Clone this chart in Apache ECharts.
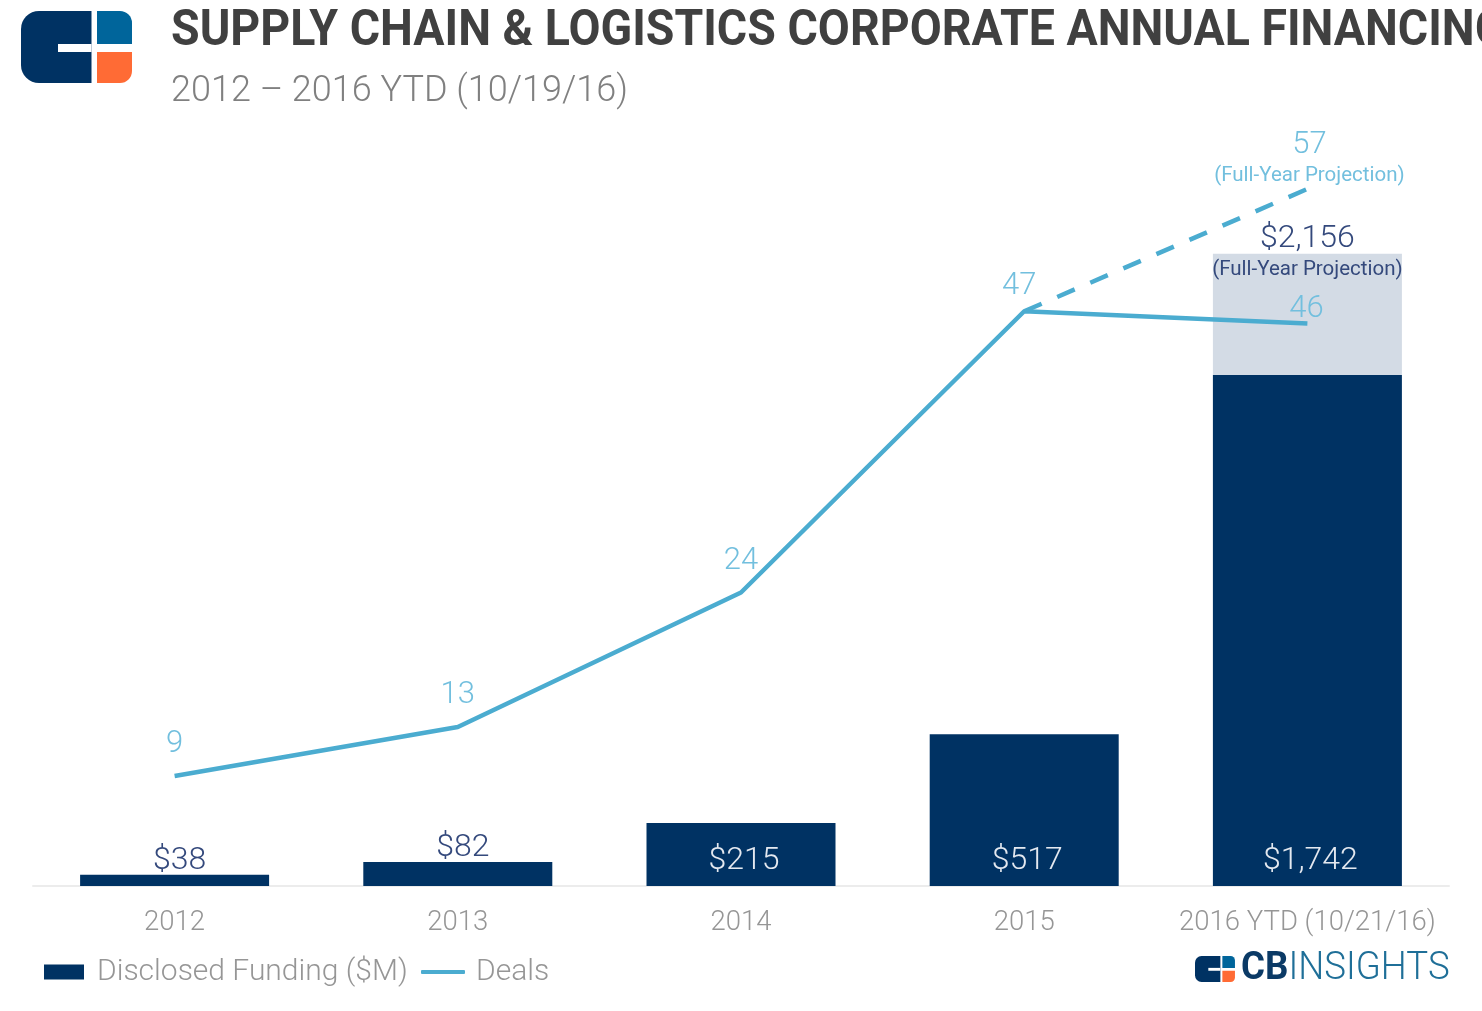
<!DOCTYPE html>
<html>
<head>
<meta charset="utf-8">
<title>Supply Chain & Logistics Corporate Annual Financing</title>
<script src="https://cdn.jsdelivr.net/npm/echarts@6/dist/echarts.min.js"></script>
<style>
    html, body { margin: 0; padding: 0; background: #fff; overflow: hidden; }
    #main { width: 1482px; height: 1011px; }
</style>
</head>
<body>
<div id="main"></div>
<script>
var years = ['2012', '2013', '2014', '2015', '2016 YTD (10/21/16)'];
var funding = [38, 82, 215, 517, 1742];
var fundingProjected = [null, null, null, null, 2156];
var deals = [9, 13, 24, 47, 46];
var dealsProjected = [null, null, null, 47, 57];

var navy = '#003263';
var blue = '#4bacd0';
var labelBlue = '#72bfde';
var grey = '#969696';
var fontName = 'Roboto';

function money(v) {
    return '$' + v.toLocaleString('en-US');
}

// logo built from rounded rects, s = scale
function makeLogo(x, y, s) {
    function part(px, py, w, h, r, color) {
        return {
            type: 'rect',
            shape: { x: x + px * s, y: y + py * s, width: w * s, height: h * s, r: r.map(function (n) { return n * s; }) },
            style: { fill: color }
        };
    }
    return [
        part(0, 0, 70.5, 72, [18, 0, 0, 18], navy),
        part(37, 33, 33.5, 8, [0, 0, 0, 0], '#ffffff'),
        part(76, 0, 35, 33, [0, 12, 0, 0], '#00659b'),
        part(76, 41, 35, 31, [0, 0, 12, 0], '#ff6b35')
    ];
}

var headerGraphics = [
    {
        type: 'text', x: 171, y: 32, scaleX: 0.93,
        style: {
            text: 'SUPPLY CHAIN & LOGISTICS CORPORATE ANNUAL FINANCING',
            fontFamily: fontName, fontWeight: 700, fontSize: 50, fill: '#404040', verticalAlign: 'middle'
        }
    },
    {
        type: 'text', x: 171, y: 92,
        style: {
            text: '2012 \u2013 2016 YTD (10/19/16)',
            fontFamily: fontName, fontWeight: 300, fontSize: 36, fill: '#808080', verticalAlign: 'middle'
        }
    },
    {
        type: 'text', x: 1241, y: 969, scaleX: 0.965,
        style: {
            text: '{a|CB}{b|INSIGHTS}',
            verticalAlign: 'middle',
            rich: {
                a: { fontFamily: fontName, fontWeight: 700, fontSize: 38, fill: '#0b3a66' },
                b: { fontFamily: fontName, fontWeight: 300, fontSize: 38, fill: '#1f6f98' }
            }
        }
    }
];

var chart = echarts.init(document.getElementById('main'));

var option = {
    animation: false,
    textStyle: { fontFamily: fontName },
    graphic: makeLogo(21, 11, 1).concat(makeLogo(1195, 956, 0.36)).concat(headerGraphics),
    legend: [
        {
            data: [{ name: 'Disclosed Funding ($M)', icon: 'rect' }],
            left: 39, top: 952, itemWidth: 40, itemHeight: 15,
            textStyle: { color: grey, fontSize: 30, fontWeight: 300, fontFamily: fontName, padding: [0, 0, 0, 8] }
        },
        {
            data: [{ name: 'Deals', icon: 'roundRect' }],
            left: 416, top: 952, itemWidth: 44, itemHeight: 4,
            textStyle: { color: grey, fontSize: 30, fontWeight: 300, fontFamily: fontName, padding: [0, 0, 0, 6] }
        }
    ],
    grid: { left: 33, right: 33, top: 123.4, bottom: 125 },
    xAxis: {
        type: 'category',
        data: years,
        axisLine: { lineStyle: { color: '#ececec', width: 2 } },
        axisTick: { show: false },
        axisLabel: { color: grey, fontSize: 27.5, fontWeight: 300, margin: 23, interval: 0 }
    },
    yAxis: [
        { type: 'value', min: 0, max: 2600, show: false },
        { type: 'value', min: 0, max: 62.36, show: false }
    ],
    series: [
        {
            name: 'Disclosed Funding ($M)',
            type: 'bar',
            stack: 'funding',
            barWidth: 189,
            itemStyle: { color: navy },
            data: funding.map(function (v) {
                var small = v < 100;
                return {
                    value: v,
                    label: {
                        show: true,
                        position: small ? 'top' : 'insideBottom',
                        distance: small ? -2 : 9,
                        offset: [small ? 5 : 3, 0],
                        formatter: money(v),
                        color: small ? '#34497c' : '#e4e9f0',
                        fontSize: 32,
                        fontWeight: 300
                    }
                };
            })
        },
        {
            name: 'Projected',
            type: 'bar',
            stack: 'funding',
            barWidth: 189,
            itemStyle: { color: '#d3dbe5' },
            data: fundingProjected.map(function (v, i) {
                if (v === null) return null;
                return {
                    value: v - funding[i],
                    label: {
                        show: true,
                        position: 'top',
                        offset: [0, 33],
                        formatter: '{a|' + money(v) + '}\n{b|(Full-Year Projection)}',
                        rich: {
                            a: { color: '#34497c', fontSize: 32, fontWeight: 300, lineHeight: 38, align: 'center' },
                            b: { color: '#34497c', fontSize: 20.5, fontWeight: 400, lineHeight: 24, align: 'center' }
                        }
                    }
                };
            })
        },
        {
            name: 'Deals',
            type: 'line',
            yAxisIndex: 1,
            symbol: 'circle',
            symbolSize: 0,
            lineStyle: { color: blue, width: 4.5 },
            itemStyle: { color: blue },
            z: 5,
            label: {
                show: true,
                position: 'top',
                distance: 16,
                color: labelBlue,
                fontSize: 31,
                fontWeight: 300
            },
            // the last two labels sit closer to the line than the others
            data: deals.map(function (v, i) {
                if (i === 3) return { value: v, label: { offset: [-5, 7] } };
                if (i === 4) return { value: v, label: { offset: [-1, 17] } };
                return v;
            })
        },
        {
            name: 'Deals Projection',
            type: 'line',
            yAxisIndex: 1,
            symbol: 'circle',
            symbolSize: 0,
            lineStyle: { color: blue, width: 4.5, type: [19, 17] },
            itemStyle: { color: blue },
            z: 4,
            data: dealsProjected.map(function (v, i) {
                if (i !== dealsProjected.length - 1) return v;
                return {
                    value: v,
                    label: {
                        show: true,
                        position: 'top',
                        distance: 0,
                        offset: [2, 0],
                        formatter: '{a|' + v + '}\n{b|(Full-Year Projection)}',
                        rich: {
                            a: { color: labelBlue, fontSize: 31, fontWeight: 300, lineHeight: 36, align: 'center' },
                            b: { color: labelBlue, fontSize: 20.5, fontWeight: 400, lineHeight: 26, align: 'center' }
                        }
                    }
                };
            })
        }
    ]
};

chart.setOption(option);
</script>
</body>
</html>
